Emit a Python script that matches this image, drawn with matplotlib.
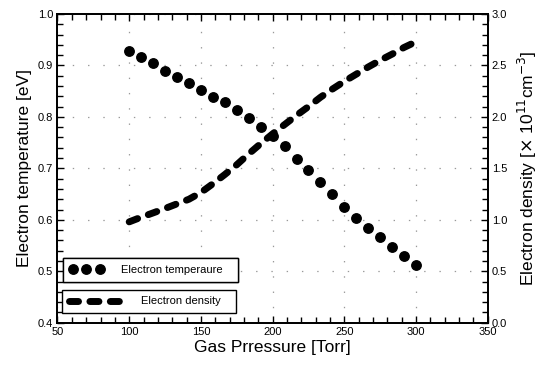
import matplotlib
matplotlib.use("Agg")
import matplotlib.pyplot as plt
import numpy as np
from matplotlib.ticker import MultipleLocator
from matplotlib.lines import Line2D

plt.rcParams['font.family'] = ['Liberation Sans', 'DejaVu Sans']
plt.rcParams['lines.scale_dashes'] = False

pressure = [100, 108.33, 116.67, 125, 133.33, 141.67, 150, 158.33, 166.67, 175,
            183.33, 191.67, 200, 208.33, 216.67, 225, 233.33, 241.67, 250, 258.33,
            266.67, 275, 283.33, 291.67, 300]
temperature = [0.928, 0.916, 0.904, 0.890, 0.878, 0.865, 0.852, 0.839, 0.828, 0.814,
               0.798, 0.780, 0.763, 0.743, 0.719, 0.697, 0.673, 0.650, 0.625, 0.603,
               0.584, 0.566, 0.547, 0.530, 0.512]
density = [0.98, 1.025, 1.067, 1.11, 1.155, 1.20, 1.265, 1.35, 1.44, 1.535,
           1.64, 1.74, 1.835, 1.925, 2.015, 2.10, 2.19, 2.27, 2.345, 2.415,
           2.485, 2.55, 2.61, 2.675, 2.73]

x_ticks = [50, 100, 150, 200, 250, 300, 350]
left_ticks = [0.4, 0.5, 0.6, 0.7, 0.8, 0.9, 1.0]
right_ticks = [0.0, 0.5, 1.0, 1.5, 2.0, 2.5, 3.0]

W, H = 550, 372
fig = plt.figure(figsize=(W / 100, H / 100), dpi=100)
x0, x1, y0, y1 = 57.5, 487.7, 14, 322.7
ax = fig.add_axes([x0 / W, 1 - y1 / H, (x1 - x0) / W, (y1 - y0) / H])
ax2 = ax.twinx()

# grid
ax.set_xticks(x_ticks)
ax.set_yticks(left_ticks)
ax.grid(True, color='#999999', linestyle=(0, (1, 10)), linewidth=0.9)
ax.set_axisbelow(True)

ax.plot(pressure, temperature, linestyle='none', marker='o', ms=6.8,
        color='black', mec='black')
ax2.plot(pressure, density, color='black', lw=5.0, dashes=(6.5, 8.2),
         dash_capstyle='round', solid_capstyle='round')

ax.set_xlim(50, 350)
ax.set_ylim(0.4, 1.0)
ax2.set_ylim(0.0, 3.0)
ax2.set_yticks(right_ticks)

ax.set_xticklabels([str(v) for v in x_ticks])
ax.set_yticklabels([f"{v:.1f}" for v in left_ticks])
ax2.set_yticklabels([f"{v:.1f}" for v in right_ticks])

ax.xaxis.set_minor_locator(MultipleLocator(10))
ax.yaxis.set_minor_locator(MultipleLocator(0.02))
ax2.yaxis.set_minor_locator(MultipleLocator(0.1))

ax.tick_params(axis='x', which='both', direction='in', top=True, labelsize=8, pad=3,
               width=1.0)
ax.tick_params(axis='y', which='both', direction='in', right=False, labelsize=8, pad=3,
               width=1.0)
ax2.tick_params(axis='y', which='both', direction='in', labelsize=8, pad=3, width=1.0)
for a in (ax, ax2):
    a.tick_params(which='major', length=5)
    a.tick_params(which='minor', length=4)
    for s in a.spines.values():
        s.set_linewidth(1.3)

ax.set_xlabel('Gas Prressure [Torr]', fontsize=12.5, labelpad=2)
ax.set_ylabel('Electron temperature [eV]', fontsize=12.5, labelpad=4)
ax2.set_ylabel(r'Electron density [$\times$ 10$^{11}$cm$^{-3}$]', fontsize=12.5,
               labelpad=6)

# legends (two stacked boxes)
h1 = Line2D([], [], linestyle='none', marker='o', ms=6.8, color='black')
h2 = Line2D([], [], color='black', lw=5.0, dashes=(6.5, 8.2), dash_capstyle='round')

def fig_box(px0, py0, px1, py1):
    return (px0 / W, 1 - py1 / H, (px1 - px0) / W, (py1 - py0) / H)

leg1 = fig.legend([h1], ['Electron temperaure'], loc='center left',
                  bbox_to_anchor=fig_box(63, 254, 238, 286), mode='expand',
                  fontsize=8, numpoints=3, handlelength=3.0, handletextpad=1.6,
                  borderaxespad=0, borderpad=0.6, frameon=True, fancybox=False,
                  edgecolor='black', framealpha=1)
leg1.get_frame().set_linewidth(1.0)
leg2 = fig.legend([h2], ['Electron density'], loc='center left',
                  bbox_to_anchor=fig_box(62, 286, 236, 317), mode='expand',
                  fontsize=8, handlelength=4.6, handletextpad=1.9,
                  borderaxespad=0, borderpad=0.6, frameon=True, fancybox=False,
                  edgecolor='black', framealpha=1)
leg2.get_frame().set_linewidth(1.0)
fig.add_artist(leg1)

fig.savefig('out.png', dpi=100)
